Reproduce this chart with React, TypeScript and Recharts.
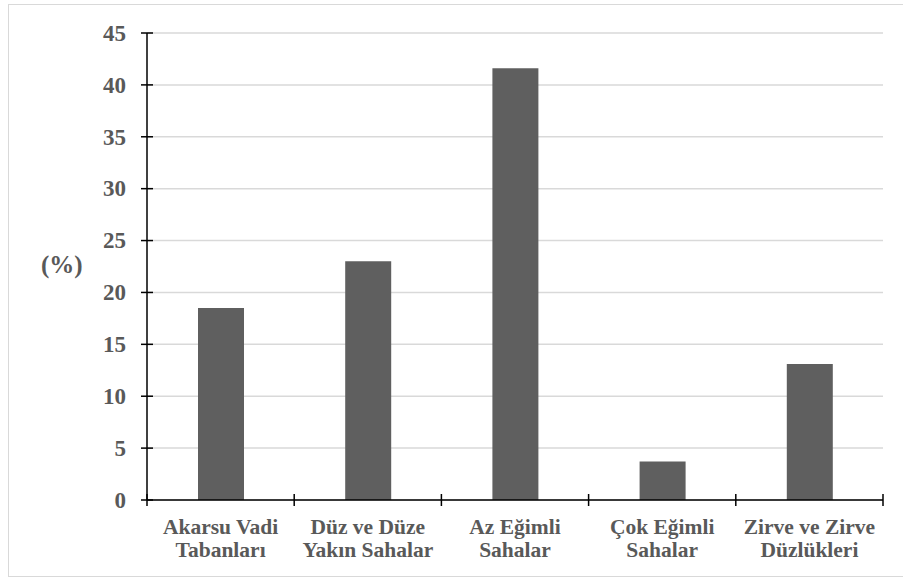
import React from 'react';
import { BarChart, Bar, XAxis, YAxis, CartesianGrid } from 'recharts';

const categories = [
  ['Akarsu Vadi', 'Tabanları'],
  ['Düz ve Düze', 'Yakın Sahalar'],
  ['Az Eğimli', 'Sahalar'],
  ['Çok Eğimli', 'Sahalar'],
  ['Zirve ve Zirve', 'Düzlükleri'],
];
const shares = [18.5, 23.0, 41.6, 3.7, 13.1];
const yTicks = [0, 5, 10, 15, 20, 25, 30, 35, 40, 45];

const data = categories.map((lines, i) => ({ name: lines.join('\n'), value: shares[i] }));

const FONT = "'Liberation Serif', 'DejaVu Serif', serif";
const TEXT = '#595959';
const TICK_SIZE = 6;
const TICK_MARGIN = 15;
const X_TICK_MARGIN = 8;

// y tick: label plus a short mark crossing the axis line
const YTick = (props: any) => {
  const { x, y, payload } = props;
  const axisX = x + TICK_SIZE + TICK_MARGIN;
  return (
    <g>
      <line x1={axisX - 6} x2={axisX + 6} y1={y} y2={y} stroke="#000" strokeWidth={1.5} />
      <text x={x} y={y} dy={7.8} textAnchor="end" fill={TEXT} style={{ fontFamily: FONT, fontWeight: 700, fontSize: 23 }}>
        {payload.value}
      </text>
    </g>
  );
};

// x tick: two-line category name, marks sit on the category boundaries
const XTick = (props: any) => {
  const { x, y, payload, index, width, visibleTicksCount } = props;
  const band = width / visibleTicksCount;
  const axisY = y - TICK_SIZE - X_TICK_MARGIN;
  const lines = String(payload.value).split('\n');
  return (
    <g>
      <line x1={x - band / 2} x2={x - band / 2} y1={axisY - 6} y2={axisY + 6} stroke="#000" strokeWidth={1.5} />
      {index === visibleTicksCount - 1 && (
        <line x1={x + band / 2} x2={x + band / 2} y1={axisY - 6} y2={axisY + 6} stroke="#000" strokeWidth={1.5} />
      )}
      <text x={x} y={y} textAnchor="middle" fill={TEXT} style={{ fontFamily: FONT, fontWeight: 700, fontSize: 21.5 }}>
        {lines.map((l, i) => (
          <tspan key={i} x={x} dy={i === 0 ? 20 : 23}>
            {l}
          </tspan>
        ))}
      </text>
    </g>
  );
};

export default function App() {
  return (
    <div style={{ position: 'absolute', left: 0, top: 0, width: 903, height: 579, background: '#fff', fontFamily: FONT }}>
      <div
        style={{
          position: 'absolute',
          left: 8,
          top: 4,
          width: 900,
          height: 573,
          border: '1.5px solid #d9d9d9',
          boxSizing: 'border-box',
        }}
      />
      <div style={{ position: 'absolute', left: 0, top: 0 }}>
        <BarChart width={903} height={579} data={data} margin={{ top: 33, right: 20, bottom: 0, left: 0 }}>
          <CartesianGrid vertical={false} stroke="#d9d9d9" strokeWidth={1.5} />
          <XAxis
            dataKey="name"
            axisLine={{ stroke: '#000', strokeWidth: 1.5 }}
            tickLine={false}
            tickSize={TICK_SIZE}
            tickMargin={X_TICK_MARGIN}
            tick={<XTick />}
            interval={0}
            height={79}
          />
          <YAxis
            width={147}
            domain={[0, 45]}
            ticks={yTicks}
            interval={0}
            axisLine={{ stroke: '#000', strokeWidth: 1.5 }}
            tickLine={false}
            tickSize={TICK_SIZE}
            tickMargin={TICK_MARGIN}
            tick={<YTick />}
            label={{
              value: '(%)',
              position: 'insideLeft',
              offset: 41,
              dy: -2,
              fill: TEXT,
              style: { fontFamily: FONT, fontWeight: 700, fontSize: 25 },
            }}
          />
          <Bar dataKey="value" fill="#5f5f5f" barSize={46} isAnimationActive={false} />
        </BarChart>
      </div>
    </div>
  );
}
